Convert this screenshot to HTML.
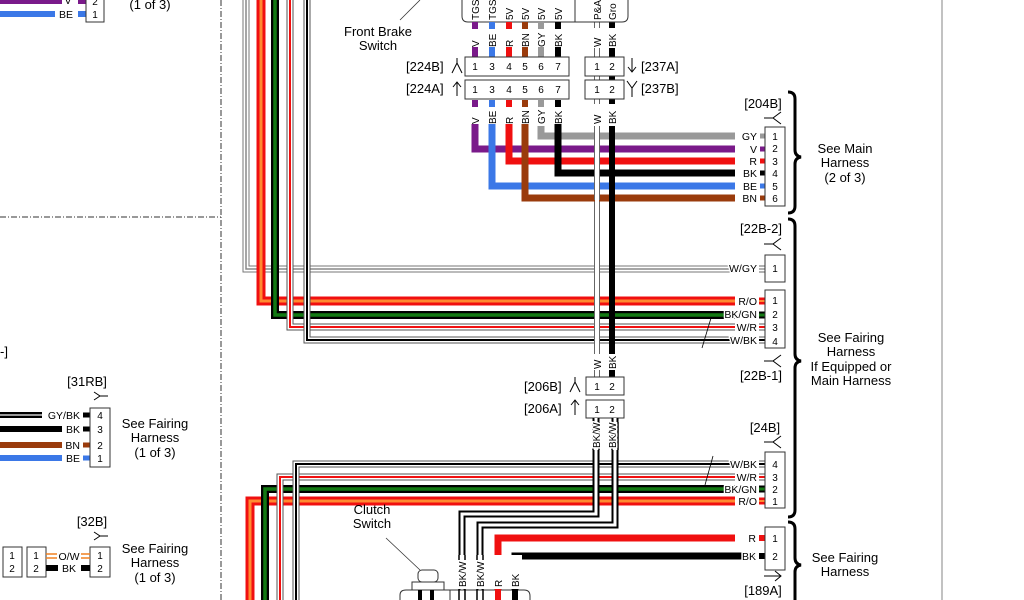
<!DOCTYPE html>
<html><head><meta charset="utf-8"><style>
html,body{margin:0;padding:0;background:#fff;}
svg{display:block;font-family:"Liberation Sans",Arial,sans-serif;}
.h text{paint-order:stroke;stroke:#fff;stroke-width:3px;stroke-linejoin:round;}
</style></head><body>
<svg width="1024" height="600" viewBox="0 0 1024 600" xmlns="http://www.w3.org/2000/svg">
<defs>
<g id="ysym"><path d="M0,0 L6,4 L0,8 M6,4 L14,4" fill="none" stroke="#000" stroke-width="1"/></g>
</defs>
<rect width="1024" height="600" fill="#fff"/>
<line x1="221" y1="0" x2="221" y2="600" stroke="#333" stroke-width="1" stroke-dasharray="6,2,1,2"/>
<line x1="0" y1="217" x2="221" y2="217" stroke="#333" stroke-width="1" stroke-dasharray="6,2,1,2"/>
<line x1="942" y1="0" x2="942" y2="600" stroke="#999" stroke-width="1.2"/>

<line x1="0" y1="1" x2="62" y2="1" stroke="#7a1a8a" stroke-width="6"/>
<line x1="78" y1="1" x2="86" y2="1" stroke="#7a1a8a" stroke-width="6"/>
<line x1="0" y1="14" x2="55" y2="14" stroke="#3b78e7" stroke-width="6"/>
<line x1="78" y1="14" x2="86" y2="14" stroke="#3b78e7" stroke-width="6"/>
<rect x="86" y="-5" width="18" height="27" fill="#fff" stroke="#333"/>
<text x="68" y="4" font-size="10.5" text-anchor="middle">V</text>
<text x="66" y="18" font-size="10.5" text-anchor="middle">BE</text>
<text x="95" y="5" font-size="10" text-anchor="middle">2</text>
<text x="95" y="18" font-size="10" text-anchor="middle">1</text>
<text x="150" y="9" font-size="13" text-anchor="middle">(1 of 3)</text>

<text x="0" y="356" font-size="13">-]</text>
<text x="87" y="386" font-size="13" text-anchor="middle">[31RB]</text>
<use href="#ysym" x="94" y="392"/>
<line x1="0" y1="415" x2="42" y2="415" stroke="#000" stroke-width="6"/>
<line x1="0" y1="415" x2="42" y2="415" stroke="#999" stroke-width="2"/>
<line x1="0" y1="429" x2="62" y2="429" stroke="#000" stroke-width="6"/>
<line x1="0" y1="445" x2="62" y2="445" stroke="#9a3b0c" stroke-width="6"/>
<line x1="0" y1="458" x2="62" y2="458" stroke="#3b78e7" stroke-width="6"/>
<g font-size="10.5" text-anchor="end" class="h"><text x="80" y="419">GY/BK</text><text x="80" y="433">BK</text><text x="80" y="449">BN</text><text x="80" y="462">BE</text></g>
<line x1="83" y1="415" x2="90" y2="415" stroke="#000" stroke-width="5"/>
<line x1="83" y1="429" x2="90" y2="429" stroke="#000" stroke-width="5"/>
<line x1="83" y1="445" x2="90" y2="445" stroke="#9a3b0c" stroke-width="5"/>
<line x1="83" y1="458" x2="90" y2="458" stroke="#3b78e7" stroke-width="5"/>
<rect x="90" y="408" width="20" height="59" fill="#fff" stroke="#333"/>
<g font-size="10" text-anchor="middle"><text x="100" y="419">4</text><text x="100" y="433">3</text><text x="100" y="449">2</text><text x="100" y="462">1</text></g>
<g font-size="13" text-anchor="middle"><text x="155" y="428">See Fairing</text><text x="155" y="442">Harness</text><text x="155" y="457">(1 of 3)</text></g>

<text x="92" y="526" font-size="13" text-anchor="middle">[32B]</text>
<use href="#ysym" x="94" y="532"/>
<rect x="3" y="547" width="19" height="30" fill="#fff" stroke="#333"/>
<rect x="27" y="547" width="19" height="30" fill="#fff" stroke="#333"/>
<rect x="90" y="547" width="20" height="30" fill="#fff" stroke="#333"/>
<line x1="46" y1="554" x2="57" y2="554" stroke="#f08020" stroke-width="1.5"/><line x1="46" y1="558" x2="57" y2="558" stroke="#f08020" stroke-width="1.5"/>
<line x1="81" y1="554" x2="90" y2="554" stroke="#f08020" stroke-width="1.5"/><line x1="81" y1="558" x2="90" y2="558" stroke="#f08020" stroke-width="1.5"/>
<line x1="46" y1="568" x2="58" y2="568" stroke="#000" stroke-width="6"/>
<line x1="81" y1="568" x2="90" y2="568" stroke="#000" stroke-width="6"/>
<g font-size="10" text-anchor="middle"><text x="12" y="559">1</text><text x="12" y="572">2</text><text x="36" y="559">1</text><text x="36" y="572">2</text><text x="100" y="559">1</text><text x="100" y="572">2</text></g>
<text x="69" y="560" font-size="10.5" text-anchor="middle">O/W</text>
<text x="69" y="572" font-size="10.5" text-anchor="middle">BK</text>
<g font-size="13" text-anchor="middle"><text x="155" y="553">See Fairing</text><text x="155" y="567">Harness</text><text x="155" y="582">(1 of 3)</text></g>

<g fill="none" stroke-linejoin="miter">
<polyline points="246,0 246,269 735,269" stroke="#777" stroke-width="7"/>
<polyline points="246,0 246,269 735,269" stroke="#fff" stroke-width="5"/>
<polyline points="246,0 246,269 735,269" stroke="#888" stroke-width="1.5"/>
<polyline points="261,0 261,301 735,301" stroke="#f01010" stroke-width="9"/>
<polyline points="261,0 261,301 735,301" stroke="#ff8a30" stroke-width="3"/>
<polyline points="275,0 275,315 735,315" stroke="#000" stroke-width="8"/>
<polyline points="275,0 275,315 735,315" stroke="#137a13" stroke-width="3.5"/>
<polyline points="290,0 290,327 735,327" stroke="#555" stroke-width="7"/>
<polyline points="290,0 290,327 735,327" stroke="#fff" stroke-width="5"/>
<polyline points="290,0 290,327 735,327" stroke="#f01010" stroke-width="2"/>
<polyline points="307,0 307,340 735,340" stroke="#555" stroke-width="7"/>
<polyline points="307,0 307,340 735,340" stroke="#fff" stroke-width="5"/>
<polyline points="307,0 307,340 735,340" stroke="#000" stroke-width="2"/>
</g>

<line x1="597" y1="22" x2="597" y2="377" stroke="#666" stroke-width="6"/>
<line x1="597" y1="22" x2="597" y2="377" stroke="#fff" stroke-width="4"/>
<line x1="612" y1="22" x2="612" y2="377" stroke="#000" stroke-width="6"/>

<path d="M462,-2 L462,16 Q462,22 468,22 L622,22 Q628,22 628,16 L628,-2" fill="#fff" stroke="#333"/>
<line x1="575" y1="-2" x2="575" y2="22" stroke="#333"/>
<g font-size="10">
<text transform="translate(479,20) rotate(-90)">TGS</text>
<text transform="translate(496,20) rotate(-90)">TGS</text>
<text transform="translate(513,20) rotate(-90)">5V</text>
<text transform="translate(529,20) rotate(-90)">5V</text>
<text transform="translate(545,20) rotate(-90)">5V</text>
<text transform="translate(562,20) rotate(-90)">5V</text>
<text transform="translate(601,20) rotate(-90)">P&amp;A</text>
<text transform="translate(616,20) rotate(-90)">Gro</text>
</g>
<line x1="400" y1="20" x2="420" y2="0" stroke="#333" stroke-width="0.8"/>
<g font-size="13" text-anchor="middle"><text x="378" y="36">Front Brake</text><text x="378" y="50">Switch</text></g>

<g stroke-width="6">
<line x1="475" y1="22" x2="475" y2="29" stroke="#7a1a8a"/><line x1="475" y1="47" x2="475" y2="57" stroke="#7a1a8a"/>
<line x1="492" y1="22" x2="492" y2="29" stroke="#3b78e7"/><line x1="492" y1="47" x2="492" y2="57" stroke="#3b78e7"/>
<line x1="509" y1="22" x2="509" y2="29" stroke="#f01010"/><line x1="509" y1="47" x2="509" y2="57" stroke="#f01010"/>
<line x1="525" y1="22" x2="525" y2="29" stroke="#9a3b0c"/><line x1="525" y1="47" x2="525" y2="57" stroke="#9a3b0c"/>
<line x1="541" y1="22" x2="541" y2="29" stroke="#999"/><line x1="541" y1="47" x2="541" y2="57" stroke="#999"/>
<line x1="558" y1="22" x2="558" y2="29" stroke="#000"/><line x1="558" y1="47" x2="558" y2="57" stroke="#000"/>
<line x1="475" y1="100" x2="475" y2="107" stroke="#7a1a8a"/>
<line x1="492" y1="100" x2="492" y2="107" stroke="#3b78e7"/>
<line x1="509" y1="100" x2="509" y2="107" stroke="#f01010"/>
<line x1="525" y1="100" x2="525" y2="107" stroke="#9a3b0c"/>
<line x1="541" y1="100" x2="541" y2="107" stroke="#999"/>
<line x1="558" y1="100" x2="558" y2="107" stroke="#000"/>
</g>
<rect x="589" y="28" width="16" height="20" fill="#fff"/>
<rect x="605" y="28" width="14" height="20" fill="#fff"/>
<rect x="589" y="104" width="16" height="22" fill="#fff"/>
<rect x="605" y="104" width="14" height="22" fill="#fff"/>
<g font-size="10">
<text transform="translate(479,47) rotate(-90)">V</text>
<text transform="translate(496,47) rotate(-90)">BE</text>
<text transform="translate(513,47) rotate(-90)">R</text>
<text transform="translate(529,47) rotate(-90)">BN</text>
<text transform="translate(545,47) rotate(-90)">GY</text>
<text transform="translate(562,47) rotate(-90)">BK</text>
<text transform="translate(601,47) rotate(-90)">W</text>
<text transform="translate(616,47) rotate(-90)">BK</text>
<text transform="translate(479,124) rotate(-90)">V</text>
<text transform="translate(496,124) rotate(-90)">BE</text>
<text transform="translate(513,124) rotate(-90)">R</text>
<text transform="translate(529,124) rotate(-90)">BN</text>
<text transform="translate(545,124) rotate(-90)">GY</text>
<text transform="translate(562,124) rotate(-90)">BK</text>
<text transform="translate(601,124) rotate(-90)">W</text>
<text transform="translate(616,124) rotate(-90)">BK</text>
</g>
<rect x="465" y="57" width="104" height="19" fill="#fff" stroke="#333"/>
<rect x="465" y="80" width="104" height="19" fill="#fff" stroke="#333"/>
<rect x="585" y="57" width="39" height="19" fill="#fff" stroke="#333"/>
<rect x="585" y="80" width="39" height="19" fill="#fff" stroke="#333"/>
<g font-size="10" text-anchor="middle">
<text x="475" y="70">1</text><text x="492" y="70">3</text><text x="509" y="70">4</text><text x="525" y="70">5</text><text x="541" y="70">6</text><text x="558" y="70">7</text>
<text x="475" y="93">1</text><text x="492" y="93">3</text><text x="509" y="93">4</text><text x="525" y="93">5</text><text x="541" y="93">6</text><text x="558" y="93">7</text>
<text x="597" y="70">1</text><text x="612" y="70">2</text><text x="597" y="93">1</text><text x="612" y="93">2</text>
</g>
<g font-size="13">
<text x="406" y="71">[224B]</text><text x="406" y="93">[224A]</text>
<text x="641" y="71">[237A]</text><text x="641" y="93">[237B]</text>
</g>
<path d="M452,73 L457,63 L462,73 M457,63 L457,58" fill="none" stroke="#000"/>
<path d="M457,96 L457,82 M453,87 L457,82 L461,87" fill="none" stroke="#000"/>
<path d="M632,58 L632,72 M628,67 L632,72 L636,67" fill="none" stroke="#000"/>
<path d="M627,81 L632,88 L637,81 M632,88 L632,97" fill="none" stroke="#000"/>

<g fill="none" stroke-width="7">
<polyline points="541,126 541,136 752,136" stroke="#999"/>
<polyline points="475,124 475,149 755,149" stroke="#7a1a8a"/>
<polyline points="509,124 509,161 756,161" stroke="#f01010"/>
<polyline points="558,124 558,173 752,173" stroke="#000"/>
<polyline points="492,124 492,186 752,186" stroke="#3b78e7"/>
<polyline points="525,124 525,198 752,198" stroke="#9a3b0c"/>
</g>
<line x1="597" y1="126" x2="597" y2="200" stroke="#666" stroke-width="6"/>
<line x1="597" y1="126" x2="597" y2="377" stroke="#fff" stroke-width="4"/>
<line x1="612" y1="126" x2="612" y2="377" stroke="#000" stroke-width="6"/>
<rect x="735" y="130" width="24" height="75" fill="#fff"/>
<g font-size="10.5" text-anchor="end" class="h">
<text x="757" y="140">GY</text><text x="757" y="153">V</text><text x="757" y="165">R</text><text x="757" y="177">BK</text><text x="757" y="190">BE</text><text x="757" y="202">BN</text>
</g>
<g stroke-width="5">
<line x1="760" y1="136" x2="765" y2="136" stroke="#999"/>
<line x1="760" y1="149" x2="765" y2="149" stroke="#7a1a8a"/>
<line x1="760" y1="161" x2="765" y2="161" stroke="#f01010"/>
<line x1="760" y1="173" x2="765" y2="173" stroke="#000"/>
<line x1="760" y1="186" x2="765" y2="186" stroke="#3b78e7"/>
<line x1="760" y1="198" x2="765" y2="198" stroke="#9a3b0c"/>
</g>
<rect x="765" y="127" width="20" height="79" fill="#fff" stroke="#333"/>
<g font-size="10" text-anchor="middle">
<text x="775" y="140">1</text><text x="775" y="152">2</text><text x="775" y="165">3</text><text x="775" y="177">4</text><text x="775" y="190">5</text><text x="775" y="202">6</text>
</g>
<text x="763" y="108" font-size="13" text-anchor="middle">[204B]</text>
<path d="M764,118 L773,118 M781,112 L773,118 L781,124" fill="none" stroke="#000"/>

<text x="761" y="233" font-size="13" text-anchor="middle">[22B-2]</text>
<path d="M764,244 L773,244 M781,238 L773,244 L781,250" fill="none" stroke="#000"/>
<g font-size="10.5" text-anchor="end" class="h">
<text x="757" y="272">W/GY</text><text x="757" y="305">R/O</text><text x="757" y="318">BK/GN</text><text x="757" y="331">W/R</text><text x="757" y="344">W/BK</text>
</g>
<g stroke-width="1"><line x1="759" y1="266" x2="765" y2="266" stroke="#666"/><line x1="759" y1="269" x2="765" y2="269" stroke="#666"/><line x1="759" y1="272" x2="765" y2="272" stroke="#666"/></g>
<line x1="759" y1="301" x2="765" y2="301" stroke="#f01010" stroke-width="7"/><line x1="759" y1="301" x2="765" y2="301" stroke="#ff8a30" stroke-width="2"/>
<line x1="759" y1="315" x2="765" y2="315" stroke="#000" stroke-width="7"/><line x1="759" y1="315" x2="765" y2="315" stroke="#137a13" stroke-width="3"/>
<g stroke-width="1"><line x1="759" y1="324" x2="765" y2="324" stroke="#555"/><line x1="759" y1="327" x2="765" y2="327" stroke="#f01010" stroke-width="2"/><line x1="759" y1="330" x2="765" y2="330" stroke="#555"/>
<line x1="759" y1="337" x2="765" y2="337" stroke="#555"/><line x1="759" y1="340" x2="765" y2="340" stroke="#000" stroke-width="2"/><line x1="759" y1="343" x2="765" y2="343" stroke="#555"/></g>
<rect x="765" y="255" width="20" height="27" fill="#fff" stroke="#333"/>
<text x="775" y="272" font-size="10" text-anchor="middle">1</text>
<rect x="765" y="290" width="20" height="58" fill="#fff" stroke="#333"/>
<g font-size="10" text-anchor="middle"><text x="775" y="304">1</text><text x="775" y="318">2</text><text x="775" y="331">3</text><text x="775" y="345">4</text></g>
<path d="M764,361 L773,361 M781,355 L773,361 L781,367" fill="none" stroke="#000"/>
<text x="761" y="380" font-size="13" text-anchor="middle">[22B-1]</text>
<line x1="702" y1="348" x2="711" y2="318" stroke="#000" stroke-width="0.8"/>

<rect x="590" y="348" width="28" height="22" fill="#fff"/>
<line x1="597" y1="348" x2="597" y2="354" stroke="#666" stroke-width="6"/><line x1="597" y1="348" x2="597" y2="354" stroke="#fff" stroke-width="4"/>
<line x1="612" y1="348" x2="612" y2="354" stroke="#000" stroke-width="6"/>
<line x1="597" y1="370" x2="597" y2="377" stroke="#666" stroke-width="6"/><line x1="597" y1="370" x2="597" y2="377" stroke="#fff" stroke-width="4"/>
<line x1="612" y1="370" x2="612" y2="377" stroke="#000" stroke-width="6"/>
<g font-size="10"><text transform="translate(601,369) rotate(-90)">W</text><text transform="translate(616,369) rotate(-90)">BK</text></g>
<rect x="586" y="377" width="38" height="18" fill="#fff" stroke="#333"/>
<rect x="586" y="400" width="38" height="18" fill="#fff" stroke="#333"/>
<g font-size="10" text-anchor="middle"><text x="597" y="390">1</text><text x="612" y="390">2</text><text x="597" y="413">1</text><text x="612" y="413">2</text></g>
<g font-size="13"><text x="524" y="391">[206B]</text><text x="524" y="413">[206A]</text></g>
<path d="M570,392 L575,382 L580,392 M575,382 L575,377" fill="none" stroke="#000"/>
<path d="M575,415 L575,400 M571,405 L575,400 L579,405" fill="none" stroke="#000"/>

<g fill="none">
<polyline points="250,600 250,501 735,501" stroke="#f01010" stroke-width="9"/>
<polyline points="250,600 250,501 735,501" stroke="#ff8a30" stroke-width="3"/>
<polyline points="265,600 265,489 735,489" stroke="#000" stroke-width="8"/>
<polyline points="265,600 265,489 735,489" stroke="#137a13" stroke-width="3.5"/>
<polyline points="280,600 280,477 735,477" stroke="#555" stroke-width="7"/>
<polyline points="280,600 280,477 735,477" stroke="#fff" stroke-width="5"/>
<polyline points="280,600 280,477 735,477" stroke="#f01010" stroke-width="2"/>
<polyline points="296,600 296,464 735,464" stroke="#555" stroke-width="7"/>
<polyline points="296,600 296,464 735,464" stroke="#fff" stroke-width="5"/>
<polyline points="296,600 296,464 735,464" stroke="#000" stroke-width="2"/>
<polyline points="596,418 596,514 462,514 462,600" stroke="#000" stroke-width="7"/>
<polyline points="596,418 596,514 462,514 462,600" stroke="#fff" stroke-width="3"/>
<polyline points="615,418 615,525 480,525 480,600" stroke="#000" stroke-width="7"/>
<polyline points="615,418 615,525 480,525 480,600" stroke="#fff" stroke-width="3"/>
<polyline points="735,538 498,538 498,600" stroke="#f01010" stroke-width="7"/>
<polyline points="755,556 515,556 515,600" stroke="#000" stroke-width="7"/>
</g>
<rect x="588" y="422" width="34" height="28" fill="#fff"/>
<line x1="593" y1="422" x2="593" y2="450" stroke="#000" stroke-width="1.5"/><line x1="599" y1="422" x2="599" y2="450" stroke="#000" stroke-width="1.5"/>
<line x1="612" y1="422" x2="612" y2="450" stroke="#000" stroke-width="1.5"/><line x1="618" y1="422" x2="618" y2="450" stroke="#000" stroke-width="1.5"/>
<g font-size="10" class="h"><text transform="translate(600,448) rotate(-90)">BK/W</text><text transform="translate(616,448) rotate(-90)">BK/W</text></g>
<g font-size="10.5" text-anchor="end" class="h">
<text x="757" y="468">W/BK</text><text x="757" y="481">W/R</text><text x="757" y="493">BK/GN</text><text x="757" y="505">R/O</text>
</g>
<g stroke-width="1"><line x1="759" y1="461" x2="765" y2="461" stroke="#555"/><line x1="759" y1="464" x2="765" y2="464" stroke="#000" stroke-width="2"/><line x1="759" y1="467" x2="765" y2="467" stroke="#555"/>
<line x1="759" y1="474" x2="765" y2="474" stroke="#555"/><line x1="759" y1="477" x2="765" y2="477" stroke="#f01010" stroke-width="2"/><line x1="759" y1="480" x2="765" y2="480" stroke="#555"/></g>
<line x1="759" y1="489" x2="765" y2="489" stroke="#000" stroke-width="7"/><line x1="759" y1="489" x2="765" y2="489" stroke="#137a13" stroke-width="3"/>
<line x1="759" y1="501" x2="765" y2="501" stroke="#f01010" stroke-width="7"/><line x1="759" y1="501" x2="765" y2="501" stroke="#ff8a30" stroke-width="2"/>
<rect x="765" y="452" width="20" height="56" fill="#fff" stroke="#333"/>
<g font-size="10" text-anchor="middle"><text x="775" y="468">4</text><text x="775" y="481">3</text><text x="775" y="493">2</text><text x="775" y="505">1</text></g>
<text x="765" y="432" font-size="13" text-anchor="middle">[24B]</text>
<path d="M764,442 L773,442 M781,436 L773,442 L781,448" fill="none" stroke="#000"/>
<line x1="705" y1="485" x2="713" y2="456" stroke="#000" stroke-width="0.8"/>

<g font-size="10.5" text-anchor="end" class="h"><text x="756" y="542">R</text><text x="756" y="560">BK</text></g>
<line x1="759" y1="538" x2="765" y2="538" stroke="#f01010" stroke-width="6"/>
<line x1="759" y1="556" x2="765" y2="556" stroke="#000" stroke-width="6"/>
<rect x="765" y="527" width="20" height="43" fill="#fff" stroke="#333"/>
<g font-size="10" text-anchor="middle"><text x="775" y="542">1</text><text x="775" y="560">2</text></g>
<path d="M764,576 L781,576 M775,571 L781,576 L775,581" fill="none" stroke="#000"/>
<text x="763" y="595" font-size="13" text-anchor="middle">[189A]</text>

<g font-size="13" text-anchor="middle"><text x="372" y="514">Clutch</text><text x="372" y="528">Switch</text></g>
<line x1="386" y1="538" x2="420" y2="570" stroke="#333" stroke-width="0.8"/>
<rect x="418" y="570" width="20" height="12" rx="4" fill="#fff" stroke="#333"/>
<rect x="412" y="582" width="32" height="12" fill="#fff" stroke="#333"/>
<path d="M400,600 L400,595 Q400,590 406,590 L524,590 Q530,590 530,596 L530,600" fill="#fff" stroke="#333"/>
<line x1="420" y1="590" x2="420" y2="600" stroke="#000" stroke-width="4"/>
<line x1="432" y1="590" x2="432" y2="600" stroke="#000" stroke-width="4"/>
<line x1="450" y1="590" x2="450" y2="600" stroke="#333"/>
<rect x="456" y="555" width="66" height="34" fill="#fff"/>
<g stroke-width="1.5">
<line x1="459" y1="589" x2="459" y2="600" stroke="#000"/><line x1="465" y1="589" x2="465" y2="600" stroke="#000"/>
<line x1="477" y1="589" x2="477" y2="600" stroke="#000"/><line x1="483" y1="589" x2="483" y2="600" stroke="#000"/>
</g>
<line x1="498" y1="589" x2="498" y2="600" stroke="#f01010" stroke-width="6"/>
<line x1="515" y1="589" x2="515" y2="600" stroke="#000" stroke-width="6"/>
<line x1="459" y1="555" x2="459" y2="560" stroke="#000" stroke-width="1.5"/><line x1="465" y1="555" x2="465" y2="560" stroke="#000" stroke-width="1.5"/>
<line x1="477" y1="555" x2="477" y2="560" stroke="#000" stroke-width="1.5"/><line x1="483" y1="555" x2="483" y2="560" stroke="#000" stroke-width="1.5"/>
<g font-size="10">
<text transform="translate(466,587) rotate(-90)">BK/W</text>
<text transform="translate(484,587) rotate(-90)">BK/W</text>
<text transform="translate(502,587) rotate(-90)">R</text>
<text transform="translate(519,587) rotate(-90)">BK</text>
</g>

<g fill="none" stroke="#000" stroke-width="3">
<path d="M788,92 Q795,92 795,99 L795,150 Q795,156 801,157 Q795,158 795,164 L795,206 Q795,213 788,213"/>
<path d="M788,219 Q795,219 795,226 L795,354 Q795,360 801,361 Q795,362 795,368 L795,510 Q795,517 788,517"/>
<path d="M788,522 Q795,522 795,529 L795,558 Q795,564 801,565 Q795,566 795,572 L795,600"/>
</g>
<g font-size="13" text-anchor="middle">
<text x="845" y="153">See Main</text><text x="845" y="167">Harness</text><text x="845" y="182">(2 of 3)</text>
<text x="851" y="342">See Fairing</text><text x="851" y="356">Harness</text><text x="851" y="371">If Equipped or</text><text x="851" y="385">Main Harness</text>
<text x="845" y="562">See Fairing</text><text x="845" y="576">Harness</text>
</g>
</svg>
</body></html>
